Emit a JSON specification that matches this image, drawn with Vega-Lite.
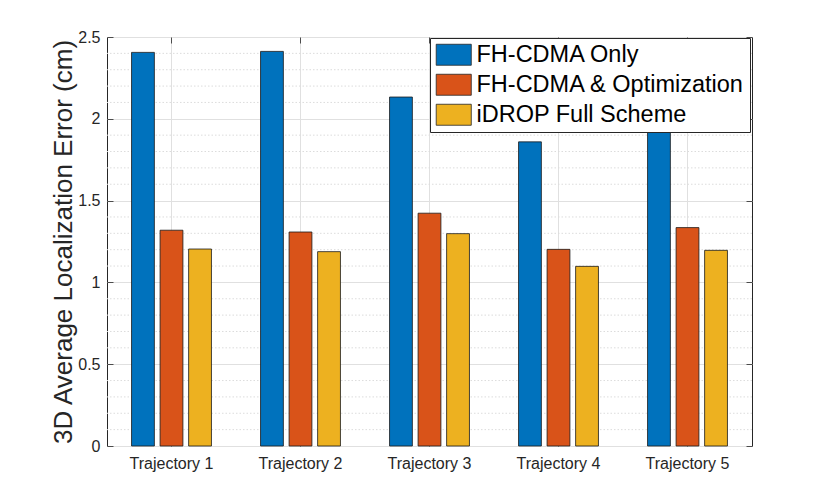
{
  "$schema": "https://vega.github.io/schema/vega-lite/v6.json",
  "width": 645,
  "height": 409,
  "autosize": {"type": "none"},
  "padding": {"left": 107, "top": 37, "right": 78, "bottom": 55},
  "background": "white",
  "config": {
    "font": "Liberation Sans",
    "view": {"stroke": "#262626", "strokeWidth": 1},
    "axis": {
      "labelFont": "Liberation Sans",
      "titleFont": "Liberation Sans",
      "labelColor": "#262626",
      "titleColor": "#262626",
      "tickColor": "#262626",
      "tickWidth": 0.8,
      "domain": false,
      "gridColor": "#e0e0e0",
      "gridWidth": 1
    }
  },
  "datasets": {
    "bars": [
      {"traj": "Trajectory 1", "method": "FH-CDMA Only", "err": 2.406},
      {"traj": "Trajectory 1", "method": "FH-CDMA & Optimization", "err": 1.319},
      {"traj": "Trajectory 1", "method": "iDROP Full Scheme", "err": 1.204},
      {"traj": "Trajectory 2", "method": "FH-CDMA Only", "err": 2.412},
      {"traj": "Trajectory 2", "method": "FH-CDMA & Optimization", "err": 1.308},
      {"traj": "Trajectory 2", "method": "iDROP Full Scheme", "err": 1.188},
      {"traj": "Trajectory 3", "method": "FH-CDMA Only", "err": 2.133},
      {"traj": "Trajectory 3", "method": "FH-CDMA & Optimization", "err": 1.423},
      {"traj": "Trajectory 3", "method": "iDROP Full Scheme", "err": 1.298},
      {"traj": "Trajectory 4", "method": "FH-CDMA Only", "err": 1.859},
      {"traj": "Trajectory 4", "method": "FH-CDMA & Optimization", "err": 1.202},
      {"traj": "Trajectory 4", "method": "iDROP Full Scheme", "err": 1.098},
      {"traj": "Trajectory 5", "method": "FH-CDMA Only", "err": 2.05},
      {"traj": "Trajectory 5", "method": "FH-CDMA & Optimization", "err": 1.335},
      {"traj": "Trajectory 5", "method": "iDROP Full Scheme", "err": 1.196}
    ],
    "minor": [
      {"v": 0.1}, {"v": 0.2}, {"v": 0.3}, {"v": 0.4},
      {"v": 0.6}, {"v": 0.7}, {"v": 0.8}, {"v": 0.9},
      {"v": 1.1}, {"v": 1.2}, {"v": 1.3}, {"v": 1.4},
      {"v": 1.6}, {"v": 1.7}, {"v": 1.8}, {"v": 1.9},
      {"v": 2.1}, {"v": 2.2}, {"v": 2.3}, {"v": 2.4}
    ]
  },
  "layer": [
    {
      "data": {"name": "minor"},
      "mark": {"type": "rule", "color": "#dcdcdc", "strokeDash": [1.5, 2], "strokeWidth": 1},
      "encoding": {
        "y": {"field": "v", "type": "quantitative", "scale": {"domain": [0, 2.5], "nice": false}, "axis": null}
      }
    },
    {
      "data": {"name": "bars"},
      "mark": {"type": "bar", "stroke": "#1a1a1a", "strokeWidth": 0.8},
      "encoding": {
        "x": {
          "field": "traj", "type": "nominal", "title": null,
          "scale": {"paddingInner": 0, "paddingOuter": 0},
          "axis": {"orient": "bottom", "labelAngle": 0, "labelFontSize": 16, "labelPadding": 15, "ticks": true, "tickSize": -6, "bandPosition": 0.5, "grid": true}
        },
        "xOffset": {
          "field": "method", "type": "nominal",
          "sort": ["FH-CDMA Only", "FH-CDMA & Optimization", "iDROP Full Scheme"],
          "scale": {"paddingInner": 0.2, "paddingOuter": 0.86}
        },
        "y": {
          "field": "err", "type": "quantitative",
          "scale": {"domain": [0, 2.5], "nice": false},
          "axis": {"orient": "left", "title": "3D Average Localization Error (cm)", "titleFontSize": 26, "titleFontWeight": "normal", "titlePadding": 1, "labelFontSize": 16, "labelPadding": 13, "ticks": true, "tickSize": -6, "values": [0, 0.5, 1, 1.5, 2, 2.5], "format": "~g", "grid": true}
        },
        "color": {
          "field": "method", "type": "nominal",
          "sort": ["FH-CDMA Only", "FH-CDMA & Optimization", "iDROP Full Scheme"],
          "scale": {"domain": ["FH-CDMA Only", "FH-CDMA & Optimization", "iDROP Full Scheme"], "range": ["#0072BD", "#D95319", "#EDB120"]},
          "legend": {
            "orient": "none", "legendX": 323, "legendY": 1, "title": null,
            "labelFontSize": 23.5, "labelFont": "Liberation Sans", "labelColor": "#000000", "labelLimit": 0, "labelOffset": 11,
            "symbolType": "M-1.67,-1H1.67V1H-1.67Z", "symbolSize": 441, "symbolOffset": 7, "symbolStrokeColor": "#262626", "symbolStrokeWidth": 0.8, "symbolOpacity": 1,
            "padding": 5, "rowPadding": 5,
            "strokeColor": "#262626", "fillColor": "#ffffff"
          }
        }
      }
    },
    {
      "data": {"name": "bars"},
      "mark": {"type": "bar", "opacity": 0},
      "encoding": {
        "x": {
          "field": "traj", "type": "nominal",
          "axis": {"orient": "top", "labels": false, "title": null, "grid": false, "ticks": true, "tickSize": -6, "bandPosition": 0.5}
        },
        "xOffset": {"field": "method", "type": "nominal", "sort": ["FH-CDMA Only", "FH-CDMA & Optimization", "iDROP Full Scheme"]},
        "y": {
          "field": "err", "type": "quantitative",
          "axis": {"orient": "right", "labels": false, "title": null, "grid": false, "ticks": true, "tickSize": -6, "values": [0, 0.5, 1, 1.5, 2, 2.5]}
        }
      }
    }
  ],
  "resolve": {"axis": {"x": "independent", "y": "independent"}}
}
